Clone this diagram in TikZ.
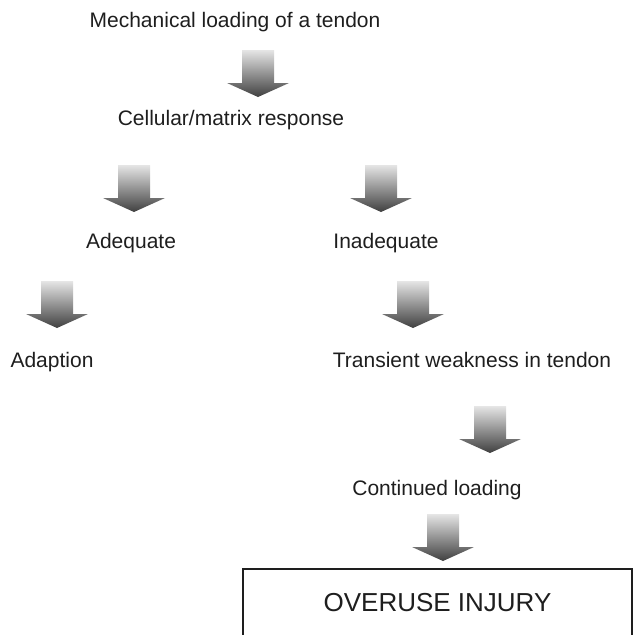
\documentclass[tikz,border=0pt]{standalone}
\usepackage{fontspec}
\setmainfont{Liberation Sans}
\definecolor{inkgray}{RGB}{30,30,30}

\begin{document}
\begin{tikzpicture}[x=1pt,y=-1pt]
  \tikzstyle{txt}=[anchor=base,inner sep=0pt,text=inkgray,font=\fontsize{21}{25}\selectfont]
  \tikzstyle{arr}=[top color=black!10,bottom color=black!75,draw=none]
  \tikzset{downarr/.pic={
    \path[arr] (-16,0) -- (16,0) -- (16,33) -- (31,33) -- (0,47) -- (-31,33) -- (-16,33) -- cycle;}}

  \clip (0,0) rectangle (635,635);

  \node[txt] (load) at (235,27) {Mechanical loading of a tendon};
  \node[txt] (resp) at (231,125) {Cellular/matrix response};
  \node[txt] (adeq) at (131,248) {Adequate};
  \node[txt] (inadeq) at (386,248) {Inadequate};
  \node[txt] (adapt) at (52,367) {Adaption};
  \node[txt] (weak) at (472,367) {Transient weakness in tendon};
  \node[txt] (cont) at (437,495) {Continued loading};
  \node[draw=inkgray,line width=1.2pt,minimum width=389pt,minimum height=68pt,inner sep=0pt,
    text=inkgray,font=\fontsize{26}{30}\selectfont] (injury) at (437.5,603) {OVERUSE INJURY};

  \pic at (258,50) {downarr};
  \pic at (134,165) {downarr};
  \pic at (381,165) {downarr};
  \pic at (57,281) {downarr};
  \pic at (413,281) {downarr};
  \pic at (490,406) {downarr};
  \pic at (443,514) {downarr};
\end{tikzpicture}
\end{document}
